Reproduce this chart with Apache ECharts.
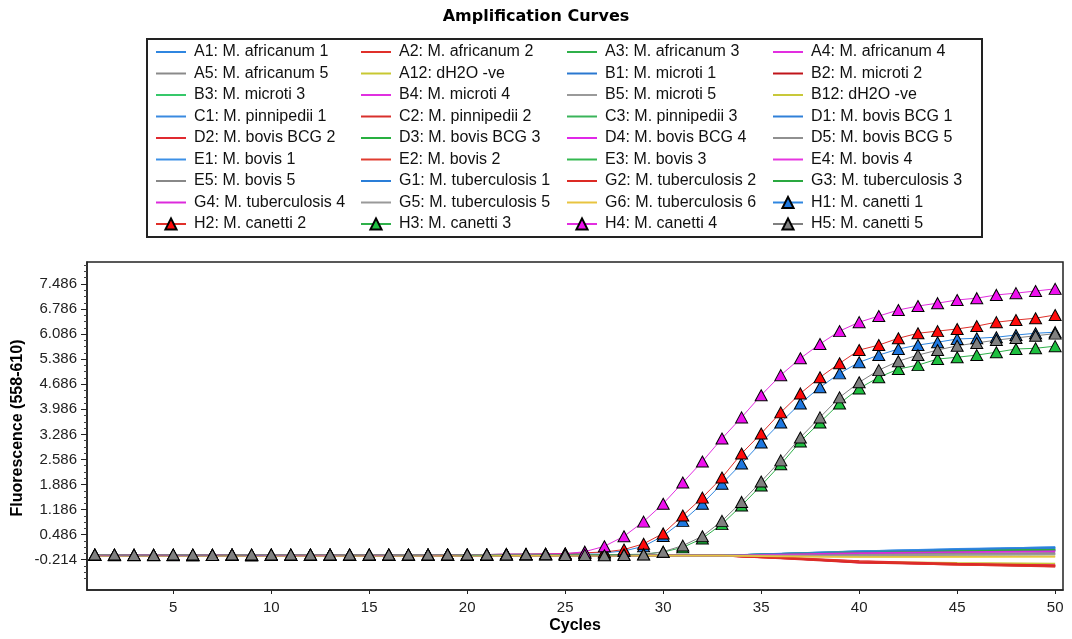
<!DOCTYPE html>
<html>
<head>
<meta charset="utf-8">
<script src="https://cdn.jsdelivr.net/npm/echarts@6/dist/echarts.min.js"></script>
<style>
html,body{margin:0;padding:0;background:#fff;}
#chart{width:1072px;height:639px;}
</style>
</head>
<body>
<div id="chart"></div>
<script>
// ---------- DATA ----------
const cycles = [1,2,3,4,5,6,7,8,9,10,11,12,13,14,15,16,17,18,19,20,21,22,23,24,25,26,27,28,29,30,31,32,33,34,35,36,37,38,39,40,41,42,43,44,45,46,47,48,49,50];

// Positive samples (H row, with triangle markers)
const h1Values = [-0.07,-0.09,-0.08,-0.08,-0.09,-0.09,-0.08,-0.07,-0.10,-0.08,-0.08,-0.07,-0.08,-0.08,-0.07,-0.08,-0.08,-0.07,-0.07,-0.08,-0.07,-0.06,-0.06,-0.06,-0.04,-0.03,-0.02,0.03,0.16,0.45,0.87,1.35,1.91,2.47,3.06,3.62,4.15,4.60,4.99,5.30,5.50,5.67,5.78,5.86,5.95,5.97,6.00,6.06,6.11,6.14];
const h2Values = [-0.08,-0.08,-0.08,-0.09,-0.08,-0.08,-0.08,-0.08,-0.08,-0.07,-0.08,-0.08,-0.07,-0.08,-0.08,-0.07,-0.08,-0.07,-0.08,-0.07,-0.07,-0.06,-0.06,-0.05,-0.04,-0.02,0.00,0.07,0.23,0.52,1.02,1.52,2.08,2.75,3.31,3.90,4.43,4.88,5.27,5.64,5.78,5.97,6.11,6.17,6.23,6.31,6.42,6.48,6.53,6.62];
const h3Values = [-0.08,-0.08,-0.09,-0.08,-0.08,-0.09,-0.08,-0.08,-0.08,-0.08,-0.08,-0.08,-0.07,-0.08,-0.08,-0.08,-0.08,-0.08,-0.07,-0.08,-0.08,-0.07,-0.07,-0.07,-0.07,-0.07,-0.07,-0.07,-0.06,0.00,0.13,0.38,0.78,1.30,1.86,2.45,3.09,3.62,4.15,4.57,4.88,5.11,5.22,5.39,5.44,5.50,5.58,5.67,5.69,5.75];
const h4Values = [-0.08,-0.08,-0.08,-0.08,-0.08,-0.08,-0.08,-0.07,-0.08,-0.08,-0.08,-0.08,-0.08,-0.07,-0.08,-0.08,-0.07,-0.08,-0.07,-0.07,-0.07,-0.06,-0.06,-0.05,-0.05,0.01,0.16,0.44,0.85,1.35,1.94,2.53,3.17,3.76,4.38,4.94,5.41,5.81,6.17,6.42,6.59,6.76,6.87,6.95,7.04,7.09,7.18,7.23,7.29,7.35];
const h5Values = [-0.07,-0.07,-0.08,-0.08,-0.07,-0.07,-0.08,-0.07,-0.07,-0.07,-0.07,-0.07,-0.07,-0.07,-0.07,-0.07,-0.07,-0.07,-0.07,-0.07,-0.07,-0.07,-0.06,-0.06,-0.08,-0.08,-0.09,-0.08,-0.07,0.01,0.18,0.44,0.87,1.40,1.97,2.56,3.20,3.76,4.32,4.74,5.08,5.33,5.50,5.64,5.76,5.84,5.92,5.98,6.04,6.10];

// Negative / flat samples: values read at these cycles
const flatCycles = [1,33,36,40,45,50];
const flatSeries = [
  {name:'A1: M. africanum 1',   color:'#2f86e0', values:[-0.10,-0.10,-0.05,0.02,0.08,0.14]},
  {name:'A2: M. africanum 2',   color:'#e0302a', values:[-0.10,-0.10,-0.17,-0.28,-0.33,-0.38]},
  {name:'A3: M. africanum 3',   color:'#2fb04a', values:[-0.10,-0.10,-0.06,-0.02,0.03,0.06]},
  {name:'A4: M. africanum 4',   color:'#e22ee0', values:[-0.10,-0.10,-0.08,-0.04,0.00,0.03]},
  {name:'A5: M. africanum 5',   color:'#8a8a8a', values:[-0.10,-0.10,-0.09,-0.08,-0.06,-0.05]},
  {name:'A12: dH2O -ve',        color:'#c8c832', values:[-0.10,-0.10,-0.12,-0.13,-0.12,-0.12]},
  {name:'B1: M. microti 1',     color:'#2a78d0', values:[-0.10,-0.10,-0.06,0.00,0.06,0.11]},
  {name:'B2: M. microti 2',     color:'#c0141a', values:[-0.10,-0.10,-0.16,-0.26,-0.34,-0.40]},
  {name:'B3: M. microti 3',     color:'#36c86a', values:[-0.10,-0.10,-0.05,0.00,0.05,0.08]},
  {name:'B4: M. microti 4',     color:'#e030e0', values:[-0.10,-0.10,-0.16,-0.30,-0.33,-0.36]},
  {name:'B5: M. microti 5',     color:'#9a9a9a', values:[-0.10,-0.10,-0.10,-0.10,-0.08,-0.07]},
  {name:'B12: dH2O -ve',        color:'#c8c83a', values:[-0.10,-0.10,-0.15,-0.27,-0.30,-0.32]},
  {name:'C1: M. pinnipedii 1',  color:'#3a8ae0', values:[-0.10,-0.10,-0.05,0.03,0.07,0.12]},
  {name:'C2: M. pinnipedii 2',  color:'#d8302c', values:[-0.10,-0.10,-0.18,-0.30,-0.35,-0.41]},
  {name:'C3: M. pinnipedii 3',  color:'#3ab45a', values:[-0.10,-0.10,-0.07,-0.03,0.01,0.04]},
  {name:'D1: M. bovis BCG 1',   color:'#3080d8', values:[-0.10,-0.10,-0.06,0.01,0.05,0.10]},
  {name:'D2: M. bovis BCG 2',   color:'#e02a30', values:[-0.10,-0.10,-0.15,-0.25,-0.32,-0.37]},
  {name:'D3: M. bovis BCG 3',   color:'#28b040', values:[-0.10,-0.10,-0.06,-0.01,0.04,0.07]},
  {name:'D4: M. bovis BCG 4',   color:'#e028e8', values:[-0.10,-0.10,-0.07,-0.02,0.02,0.04]},
  {name:'D5: M. bovis BCG 5',   color:'#909090', values:[-0.10,-0.10,-0.08,-0.05,-0.04,-0.02]},
  {name:'E1: M. bovis 1',       color:'#3c90e6', values:[-0.10,-0.10,-0.04,0.02,0.09,0.13]},
  {name:'E2: M. bovis 2',       color:'#e03c30', values:[-0.10,-0.10,-0.17,-0.27,-0.36,-0.39]},
  {name:'E3: M. bovis 3',       color:'#34b850', values:[-0.10,-0.10,-0.05,0.01,0.04,0.05]},
  {name:'E4: M. bovis 4',       color:'#e636e0', values:[-0.10,-0.10,-0.06,-0.03,0.01,0.03]},
  {name:'E5: M. bovis 5',       color:'#888888', values:[-0.10,-0.10,-0.09,-0.07,-0.05,-0.04]},
  {name:'G1: M. tuberculosis 1',color:'#2a7ed8', values:[-0.10,-0.10,-0.05,0.00,0.07,0.12]},
  {name:'G2: M. tuberculosis 2',color:'#dc2a24', values:[-0.10,-0.10,-0.16,-0.29,-0.34,-0.38]},
  {name:'G3: M. tuberculosis 3',color:'#2aa840', values:[-0.10,-0.10,-0.07,-0.02,0.02,0.06]},
  {name:'G4: M. tuberculosis 4',color:'#dc2adc', values:[-0.10,-0.10,-0.07,-0.03,0.00,0.02]},
  {name:'G5: M. tuberculosis 5',color:'#999999', values:[-0.10,-0.10,-0.10,-0.09,-0.07,-0.06]},
  {name:'G6: M. tuberculosis 6',color:'#e8c440', values:[-0.10,-0.10,-0.12,-0.14,-0.14,-0.13]}
];

const markerSeries = [
  {name:'H1: M. canetti 1', line:'#2f86e0', fill:'#1e78e0', values:h1Values},
  {name:'H2: M. canetti 2', line:'#e0302a', fill:'#ff0a0a', values:h2Values},
  {name:'H3: M. canetti 3', line:'#2fb04a', fill:'#1ec040', values:h3Values},
  {name:'H4: M. canetti 4', line:'#e22ee0', fill:'#ee10ee', values:h4Values},
  {name:'H5: M. canetti 5', line:'#808080', fill:'#808080', values:h5Values}
];

const yTickValues = [-0.214,0.486,1.186,1.886,2.586,3.286,3.986,4.686,5.386,6.086,6.786,7.486];
const xTickValues = [5,10,15,20,25,30,35,40,45,50];

// legend reading order (row-major, 4 columns)
const legendOrder = [
 'A1: M. africanum 1','A2: M. africanum 2','A3: M. africanum 3','A4: M. africanum 4',
 'A5: M. africanum 5','A12: dH2O -ve','B1: M. microti 1','B2: M. microti 2',
 'B3: M. microti 3','B4: M. microti 4','B5: M. microti 5','B12: dH2O -ve',
 'C1: M. pinnipedii 1','C2: M. pinnipedii 2','C3: M. pinnipedii 3','D1: M. bovis BCG 1',
 'D2: M. bovis BCG 2','D3: M. bovis BCG 3','D4: M. bovis BCG 4','D5: M. bovis BCG 5',
 'E1: M. bovis 1','E2: M. bovis 2','E3: M. bovis 3','E4: M. bovis 4',
 'E5: M. bovis 5','G1: M. tuberculosis 1','G2: M. tuberculosis 2','G3: M. tuberculosis 3',
 'G4: M. tuberculosis 4','G5: M. tuberculosis 5','G6: M. tuberculosis 6','H1: M. canetti 1',
 'H2: M. canetti 2','H3: M. canetti 3','H4: M. canetti 4','H5: M. canetti 5'
];

// ---------- CHART ----------
const Y_MIN = -1.06, Y_MAX = 8.10;
const minorTicks = [];
for (let i = -1; i < yTickValues.length; i++) {
  const base = i < 0 ? yTickValues[0] - 0.7 : yTickValues[i];
  for (let k = 1; k < 4; k++) {
    const v = +(base + k * 0.175).toFixed(4);
    if (v > Y_MIN && v < Y_MAX) minorTicks.push(v);
  }
}

const series = [];
flatSeries.forEach(s => {
  series.push({
    name: s.name, type: 'line', symbol: 'none',
    data: flatCycles.map((c, i) => [c, s.values[i]]),
    lineStyle: {color: s.color, width: 1.6},
    itemStyle: {color: s.color},
    z: 2
  });
});
markerSeries.forEach(s => {
  series.push({
    name: s.name, type: 'line', symbol: 'triangle', symbolSize: [12, 11],
    showAllSymbol: true,
    data: cycles.map((c, i) => [c, s.values[i]]),
    lineStyle: {color: s.line, width: 1},
    itemStyle: {color: s.fill, borderColor: '#000', borderWidth: 1},
    z: 3
  });
});

const markerNames = markerSeries.map(s => s.name);
const colX = [155, 360, 566, 772];
const legends = colX.map((x, col) => ({
  orient: 'vertical', left: x, top: 44, padding: 0,
  itemWidth: 30, itemHeight: 14, itemGap: 5.5,
  selectedMode: false,
  data: legendOrder.filter((_, i) => i % 4 === col).map(n =>
    markerNames.indexOf(n) >= 0 ? {name: n} : {name: n, itemStyle: {opacity: 0}}
  ),
  textStyle: {fontFamily: 'Liberation Sans, Arial, sans-serif', fontSize: 16, color: '#111', lineHeight: 16, padding: [0,0,0,3]}
}));

const chart = echarts.init(document.getElementById('chart'), null, {renderer: 'canvas'});
chart.setOption({
  animation: false,
  backgroundColor: '#fff',
  title: {
    text: 'Amplification Curves', left: 'center', top: 4,
    textStyle: {fontFamily: 'DejaVu Sans', fontWeight: 'bold', fontSize: 16, color: '#000'}
  },
  legend: legends,
  grid: {left: 87, right: 9, top: 262, bottom: 49, show: true, borderColor: '#222', borderWidth: 1.5, backgroundColor: '#fff'},
  xAxis: {
    type: 'value', min: 0.6, max: 50.4,
    axisLine: {show: true, onZero: false, lineStyle: {color: '#222', width: 1.5}},
    axisTick: {show: true, length: 4, customValues: xTickValues, lineStyle: {color: '#222'}},
    axisLabel: {customValues: xTickValues, margin: 10, fontFamily: 'Liberation Sans, Arial, sans-serif', fontSize: 15, color: '#222'},
    splitLine: {show: false}
  },
  yAxis: [{
    type: 'value', min: Y_MIN, max: Y_MAX,
    axisLine: {show: true, onZero: false, lineStyle: {color: '#222', width: 1.5}},
    axisTick: {show: true, length: 6, customValues: yTickValues, lineStyle: {color: '#222'}},
    axisLabel: {customValues: yTickValues, margin: 10, fontFamily: 'Liberation Sans, Arial, sans-serif', fontSize: 15, color: '#222',
      formatter: v => v.toFixed(3)},
    splitLine: {show: false}
  }, {
    type: 'value', min: Y_MIN, max: Y_MAX, position: 'left',
    axisLine: {show: false, onZero: false},
    axisTick: {show: true, length: 3, customValues: minorTicks, lineStyle: {color: '#444'}},
    axisLabel: {show: false},
    splitLine: {show: false}
  }],
  graphic: [
    {type: 'rect', shape: {x: 147, y: 39, width: 835, height: 198}, style: {fill: 'none', stroke: '#222', lineWidth: 2}, z: 10},
    {type: 'text', x: 18, y: 428, rotation: Math.PI / 2,
      style: {text: 'Fluorescence (558-610)', font: 'bold 16px "Liberation Sans", Arial, sans-serif', fill: '#000', textAlign: 'center', textVerticalAlign: 'middle'}},
    {type: 'text', x: 575, y: 626,
      style: {text: 'Cycles', font: 'bold 16px "Liberation Sans", Arial, sans-serif', fill: '#000', textAlign: 'center', textVerticalAlign: 'middle'}}
  ],
  series: series
});
</script>
</body>
</html>
